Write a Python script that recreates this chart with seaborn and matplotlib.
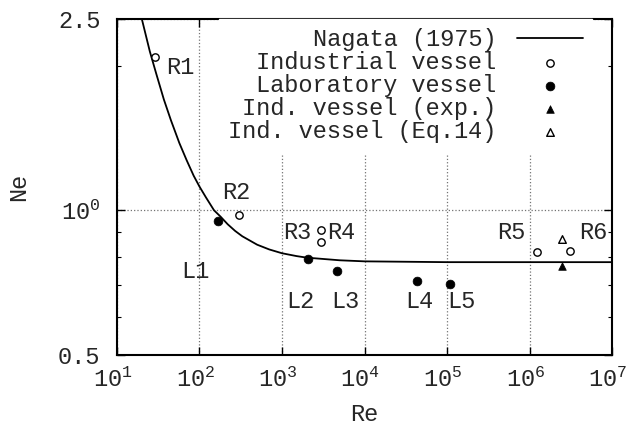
import numpy as np
import pandas as pd
import matplotlib
matplotlib.use('Agg')
import matplotlib.pyplot as plt
import matplotlib.ticker as mticker
import matplotlib.transforms as mtransforms
import seaborn as sns

# Nagata (1975) correlation
nagata_re = [19, 20, 25, 30, 37, 45, 57, 70, 85, 100, 120, 150, 180, 220, 270,
             330, 500, 700, 1000, 1500, 2000, 5000, 1e4, 1e5, 1e6, 1e7]
nagata_ne = [2.57, 2.50, 2.14, 1.92, 1.70, 1.54, 1.38, 1.27, 1.18, 1.12, 1.063, 1.00,
             0.97, 0.935, 0.906, 0.883, 0.848, 0.829, 0.814, 0.803, 0.797, 0.787,
             0.783, 0.780, 0.780, 0.780]

# Industrial vessels R1..R6
ind_names = ['R1', 'R2', 'R3', 'R4', 'R5', 'R6']
ind_re = [29, 301, 2950, 2950, 1.22e6, 3.1e6]
ind_ne = [2.08, 0.978, 0.908, 0.857, 0.818, 0.824]

# Laboratory vessels L1..L5
lab_names = ['L1', 'L2', 'L3', 'L4', 'L5']
lab_re = [166, 2085, 4680, 43700, 110000]
lab_ne = [0.951, 0.793, 0.749, 0.712, 0.703]

# Industrial vessel, measured and from Eq.14
exp_re = [2.46e6]
exp_ne = [0.767]
eq14_re = [2.46e6]
eq14_ne = [0.872]

# where the point names sit
name_text = ['R1', 'R2', 'R3', 'R4', 'R5', 'R6', 'L1', 'L2', 'L3', 'L4', 'L5']
name_x = [58, 282, 1542, 5190, 5.97e5, 5.97e6, 90, 1652, 5915, 45800, 148000]
name_y = [1.98, 1.088, 0.900, 0.900, 0.897, 0.897, 0.745, 0.645, 0.645, 0.645, 0.645]

sns.set_theme(style='ticks')
plt.rcParams['font.family'] = ['Liberation Mono', 'DejaVu Sans Mono']
plt.rcParams['mathtext.default'] = 'regular'
fs = 17

fig = plt.figure(figsize=(6.29, 4.26), dpi=100)
ax = fig.add_axes([0.186, 0.1667, 0.787, 0.7887])
ax.set_xscale('log')
ax.set_yscale('log')

sns.lineplot(x=nagata_re, y=nagata_ne, ax=ax, color='black', linewidth=1.3,
             sort=False, label='Nagata (1975)')
sns.scatterplot(x=ind_re, y=ind_ne, ax=ax, marker='o', s=28, facecolor='white',
                edgecolor='black', linewidth=1.0, label='Industrial vessel', zorder=3)
sns.scatterplot(x=lab_re, y=lab_ne, ax=ax, marker='o', s=40, color='black',
                edgecolor='black', linewidth=0.5, label='Laboratory vessel', zorder=3)
sns.scatterplot(x=exp_re, y=exp_ne, ax=ax, marker='^', s=30, color='black',
                edgecolor='black', linewidth=0.5, label='Ind. vessel (exp.)', zorder=3)
sns.scatterplot(x=eq14_re, y=eq14_ne, ax=ax, marker='^', s=30, facecolor='white',
                edgecolor='black', linewidth=1.0, label='Ind. vessel (Eq.14)', zorder=3)

for t, x, y in zip(name_text, name_x, name_y):
    ax.text(x, y, t, fontsize=fs, ha='center', va='center')

ax.set_xlim(10, 1e7)
ax.set_ylim(0.5, 2.5)
ax.xaxis.set_major_locator(mticker.FixedLocator([1e1, 1e2, 1e3, 1e4, 1e5, 1e6, 1e7]))
ax.xaxis.set_major_formatter(mticker.FixedFormatter(
    ['$10^{%d}$' % k for k in range(1, 8)]))
ax.xaxis.set_minor_locator(mticker.LogLocator(base=10, subs=np.arange(2, 10)))
ax.xaxis.set_minor_formatter(mticker.NullFormatter())
ax.yaxis.set_major_locator(mticker.FixedLocator([0.5, 1.0, 2.5]))
ax.yaxis.set_major_formatter(mticker.FixedFormatter(['0.5', '$10^{0}$', '2.5']))
ax.yaxis.set_minor_locator(mticker.FixedLocator([0.6, 0.7, 0.8, 0.9, 2.0]))
ax.yaxis.set_minor_formatter(mticker.NullFormatter())

ax.tick_params(which='both', direction='in', top=True, right=True,
               labelsize=fs, color='black')
ax.tick_params(which='major', length=6, width=1.0)
ax.tick_params(which='minor', length=3, width=0.8)
ax.tick_params(axis='x', which='major', pad=9)
ax.tick_params(axis='y', which='major', pad=12)
for sp in ax.spines.values():
    sp.set_linewidth(1.5)
    sp.set_color('black')

# superscripts make the labels wide, pull them back a little to the left
shift = mtransforms.ScaledTranslation(-3 / 72, 0, fig.dpi_scale_trans)
for lab in ax.get_xticklabels():
    lab.set_transform(lab.get_transform() + shift)

ax.grid(True, which='major', linestyle=':', color='0.45', linewidth=0.9)
ax.set_xlabel('Re', fontsize=fs, labelpad=8)
ax.set_ylabel('Ne', fontsize=fs, labelpad=20)

leg = ax.legend(loc='upper right', bbox_to_anchor=(0.96, 1.0), borderaxespad=0,
                borderpad=0.4, markerfirst=False, fontsize=fs, handlelength=2.8,
                handletextpad=0.85, labelspacing=0.0, frameon=True,
                facecolor='white', edgecolor='white', framealpha=1, fancybox=False)
leg.set_zorder(5)

fig.savefig('out.png', dpi=100)
